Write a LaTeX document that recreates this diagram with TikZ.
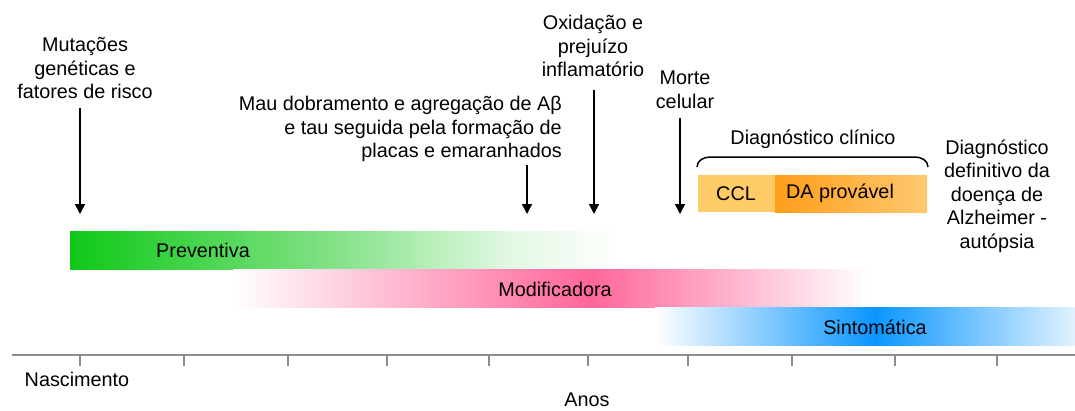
\documentclass[tikz,border=0pt]{standalone}
\usepackage{fontspec}
\setmainfont{Liberation Sans}
\usetikzlibrary{arrows.meta}
\definecolor{cg}{RGB}{16,200,24}
\definecolor{cp}{RGB}{255,102,153}
\definecolor{cb}{RGB}{10,150,255}
\definecolor{cclc}{RGB}{255,203,102}
\definecolor{dal}{RGB}{255,158,26}
\definecolor{dar}{RGB}{255,200,112}
\definecolor{axisc}{RGB}{140,140,140}
\colorlet{cgA}{cg!50!white}
\colorlet{cgB}{cg!12!white}
\colorlet{cbR}{cb!12!white}
\pgfdeclarehorizontalshading{prevsh}{100bp}{color(0bp)=(cg); color(25bp)=(cg); color(50bp)=(cgA); color(65bp)=(cgB); color(75bp)=(white); color(100bp)=(white)}
\pgfdeclarehorizontalshading{modsh}{100bp}{color(0bp)=(white); color(25bp)=(white); color(53.1bp)=(cp); color(75bp)=(white); color(100bp)=(white)}
\pgfdeclarehorizontalshading{sinsh}{100bp}{color(0bp)=(white); color(25bp)=(white); color(51.2bp)=(cb); color(75bp)=(cbR); color(100bp)=(cbR)}
\begin{document}
\begin{tikzpicture}[x=1pt,y=-1pt,
  txt/.style={font=\fontsize{19.8}{23.5}\selectfont, inner sep=0pt, align=center},
  arr/.style={line width=1.6pt, -{Triangle[width=10pt,length=10pt]}},
  tick/.style={axisc, line width=1.2pt}]
\useasboundingbox (0,0) rectangle (1075,410);
% bars
\path[shading=prevsh] (70,231.5) rectangle (620,269);
\path[shading=modsh] (233,269.5) rectangle (868,307);
\path[shading=sinsh] (655,307.5) rectangle (1075,345);
\node[txt] (prev) at (203,250) {Preventiva};
\node[txt] (mod) at (555,289) {Modificadora};
\node[txt] (sin) at (875,327) {Sintomática};
% axis
\coordinate (axL) at (12,355);
\coordinate (axR) at (1075,355);
\draw[axisc, line width=1.5pt] (axL) -- (axR);
\foreach \t in {80,184,288,387,489,588,688,792,895,997}{
  \draw[tick] (\t,355) -- (\t,366);
}
\node[txt] (nasc) at (77,379) {Nascimento};
\node[txt] (anos) at (587,400) {Anos};
% event texts
\node[txt] (mut) at (85,68) {Mutações\\genéticas e\\fatores de risco};
\node[txt, align=right, anchor=east] (mau) at (562,129) {Mau dobramento e agregação de Aβ\\e tau seguida pela formação de\\placas e emaranhados};
\node[txt] (oxi) at (593,46) {Oxidação e\\prejuízo\\inflamatório};
\node[txt] (morte) at (685,90) {Morte\\celular};
\node[txt] (diag) at (813,139) {Diagnóstico clínico};
\node[txt] (def) at (997,196) {Diagnóstico\\definitivo da\\doença de\\Alzheimer -\\autópsia};
% arrows
\coordinate (mutA) at (80,108);  \coordinate (mutB) at (80,214);
\coordinate (mauA) at (527,165); \coordinate (mauB) at (527,214);
\coordinate (oxiA) at (594,90);  \coordinate (oxiB) at (594,214);
\coordinate (morA) at (680,118); \coordinate (morB) at (680,214);
\draw[arr] (mutA) -- (mutB);
\draw[arr] (mauA) -- (mauB);
\draw[arr] (oxiA) -- (oxiB);
\draw[arr] (morA) -- (morB);
% brace
\coordinate (brL) at (697,167);
\coordinate (brR) at (928,167);
\draw[line width=1.5pt] (brL) to[out=90,in=180] (710,157) -- (915,157) to[out=0,in=90] (brR);
% clinical boxes
\path[fill=cclc] (698,175) rectangle (775,212);
\path[left color=dal, right color=dar] (775,175) rectangle (927,212);
\node[txt] (ccl) at (736,193.5) {CCL};
\node[txt] (da) at (840,193.5) {DA provável};
\end{tikzpicture}
\end{document}
